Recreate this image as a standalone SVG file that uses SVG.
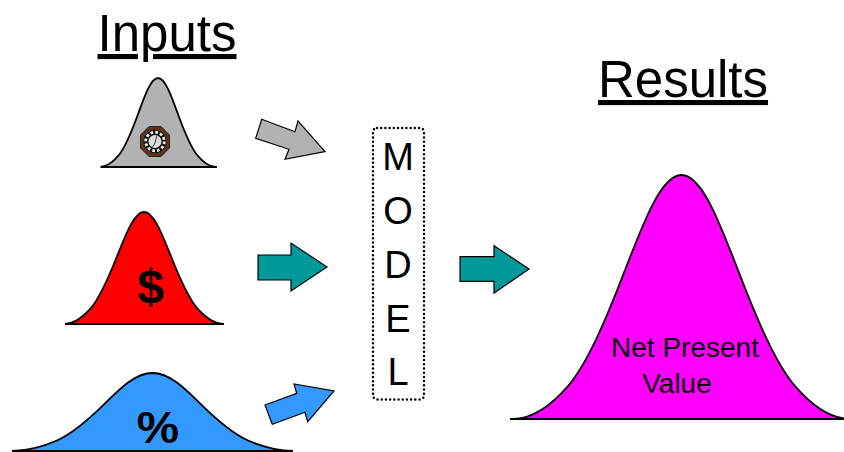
<svg xmlns="http://www.w3.org/2000/svg" xmlns:xlink="http://www.w3.org/1999/xlink" width="844" height="452" viewBox="0 0 844 452">
<style>
text{font-family:"Liberation Sans",Arial,sans-serif;fill:#000;text-anchor:middle}
.title{font-size:51px;text-decoration:underline}
.sym{font-size:44px;font-weight:bold}
.lab{font-size:28px}
.let{font-size:38px}
.bell{stroke:#000;stroke-width:1.8;vector-effect:non-scaling-stroke}
.arrow{stroke:#000;stroke-width:1.2;stroke-linejoin:miter}
.base{stroke:#000;stroke-width:2}
</style>
<defs>
<path id="b" class="bell" d="M0,100C5.300,99.600 10.700,94.900 16,86.500C21.700,77.500 27.300,59.600 33,39.300C38.700,19 44,0 50,0C56,0 61.300,19 67,39.300C72.700,59.600 78.300,77.500 84,86.500C89.300,94.900 94.700,99.600 100,100Z"/>
</defs>
<rect width="844" height="452" fill="#fff"/>
<g id="title-inputs"><text class="title" x="167" y="51">Inputs</text></g>
<g id="title-results"><text class="title" x="683" y="97">Results</text></g>
<g id="input-time">
<use xlink:href="#b" href="#b" fill="#b2b2b2" transform="translate(100.500 78) scale(1.15 .89)"/>
<line class="base" x1="102" y1="167" x2="217" y2="167"/>
<polygon points="149,126.500 161,126.500 169.500,135 169.500,148 161,156.500 149,156.500 140.500,148 140.500,135" fill="#5c3317" stroke="#222" stroke-width="1"/>
<circle cx="155" cy="141.500" r="11.500" fill="#111"/>
<circle cx="155" cy="141.500" r="9.300" fill="none" stroke="#f0f0f0" stroke-width="2.800" stroke-dasharray="2.700 2.170"/>
<circle cx="155" cy="141.500" r="6.500" fill="#ddd"/>
<path d="M155 143L157 135M155 143L152.500 147" stroke="#333" stroke-width="1" fill="none"/>
</g>
<g id="input-money">
<use xlink:href="#b" href="#b" fill="#f00" transform="translate(65 212) scale(1.58 1.12)"/>
<line class="base" x1="66" y1="324" x2="224" y2="324"/>
<text class="sym" style="font-size:48px" x="150.500" y="303">$</text>
</g>
<g id="input-rate">
<use xlink:href="#b" href="#b" fill="#39f" transform="translate(12 373) scale(2.81 .78)"/>
<line class="base" x1="12" y1="451" x2="293" y2="451"/>
<text class="sym" transform="translate(158 442.700) scale(1.08 1)">%</text>
</g>
<g id="model">
<rect x="373" y="128" width="51" height="271.500" rx="4" fill="#fff" stroke="#000" stroke-width="2.500" stroke-dasharray="0 4.200" stroke-linecap="round"/>
<text class="let" x="398" y="170">M</text>
<text class="let" x="398" y="224">O</text>
<text class="let" x="398" y="278">D</text>
<text class="let" x="398" y="332">E</text>
<text class="let" x="398" y="385">L</text>
</g>
<g id="result-npv">
<use xlink:href="#b" href="#b" fill="#f0f" transform="translate(514.500 175) scale(3.340 2.440)"/>
<line class="base" x1="510" y1="419" x2="844" y2="419"/>
<text class="lab" x="685" y="357">Net Present</text>
<text class="lab" x="677" y="393">Value</text>
</g>
<g id="connectors">
<polygon class="arrow" fill="#b2b2b2" points="261.700,119.300 295,131.700 298,121 325,151.700 285,159.300 289,149.300 255.700,138.300"/>
<polygon class="arrow" fill="#099" points="258,255 291,255 291,243 327,267 291,291 291,280 258,280"/>
<polygon class="arrow" fill="#39f" points="265,405 296.700,393.300 294,384 334,391 307.700,421.700 305,412.300 272.300,424.300"/>
<polygon class="arrow" fill="#099" points="460,256.700 494,256.700 494,245.700 529,269 494,293 494,281.300 460,281.300"/>
</g>
</svg>
